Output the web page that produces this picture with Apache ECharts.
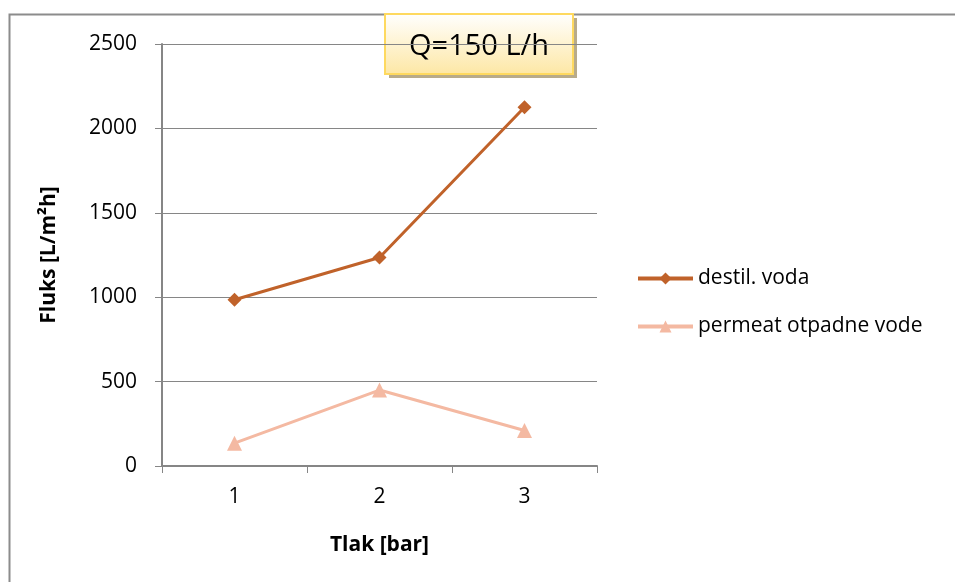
<!DOCTYPE html>
<html>
<head>
<meta charset="utf-8">
<script src="https://cdn.jsdelivr.net/npm/echarts@6/dist/echarts.min.js"></script>
<style>
  html, body { margin: 0; padding: 0; background: #fff; }
  #chart { width: 955px; height: 582px; }
</style>
</head>
<body>
<div id="chart"></div>
<script>
// podaci očitani sa grafika
const categories = ['1', '2', '3'];
const destilVoda = [985, 1235, 2125];
const permeatOtpadneVode = [135, 450, 210];
const yTicks = [0, 500, 1000, 1500, 2000, 2500];

const font = 'Open Sans, Noto Sans, sans-serif';
const myChart = echarts.init(document.getElementById('chart'));

const option = {
  animation: false,
  textStyle: { fontFamily: font },
  grid: { left: 162, right: 358, top: 44, bottom: 116 },
  legend: {
    orient: 'vertical',
    left: 631,
    top: 263,
    itemWidth: 55,
    itemHeight: 15,
    itemGap: 27,
    lineStyle: { width: 4 },
    textStyle: { fontSize: 21, color: '#000', fontFamily: font },
    data: ['destil. voda', 'permeat otpadne vode']
  },
  xAxis: {
    type: 'category',
    data: categories,
    name: 'Tlak [bar]',
    nameLocation: 'middle',
    nameGap: 69,
    nameTextStyle: { fontSize: 21, fontWeight: 'bold', color: '#000' },
    axisLine: { lineStyle: { color: '#868686', width: 2 } },
    axisTick: { show: true, length: 7, lineStyle: { color: '#868686', width: 1 } },
    axisLabel: { fontSize: 21, color: '#000', margin: 21 }
  },
  yAxis: {
    type: 'value',
    min: yTicks[0],
    max: yTicks[yTicks.length - 1],
    interval: 500,
    name: 'Fluks [L/m²h]',
    nameLocation: 'middle',
    nameGap: 102,
    nameTextStyle: { fontSize: 21, fontWeight: 'bold', color: '#000' },
    axisLine: { show: true, lineStyle: { color: '#868686', width: 2 } },
    axisTick: { show: true, length: 7, lineStyle: { color: '#868686', width: 1 } },
    axisLabel: { fontSize: 21, color: '#000', margin: 25, formatter: v => String(v) },
    splitLine: { lineStyle: { color: '#868686', width: 1 } }
  },
  graphic: [
    {
      type: 'rect',
      silent: true,
      shape: { x: 9.5, y: 14.5, width: 1200, height: 1200 },
      style: { fill: 'none', stroke: '#8c8c8c', lineWidth: 2 },
      z: -1
    },
    {
      type: 'group',
      left: 384,
      top: 13,
      children: [
        {
          type: 'rect',
          shape: { x: 4, y: 4, width: 188, height: 60 },
          style: { fill: '#b8ab8a' }
        },
        {
          type: 'rect',
          shape: { x: 0, y: 0, width: 188, height: 60 },
          style: {
            fill: new echarts.graphic.LinearGradient(0, 0, 0, 1, [
              { offset: 0, color: '#ffffff' },
              { offset: 1, color: '#fde7a4' }
            ]),
            stroke: '#fed95f',
            lineWidth: 2
          }
        },
        {
          type: 'text',
          x: 94,
          y: 33,
          style: {
            text: 'Q=150 L/h',
            fontSize: 29,
            fontFamily: font,
            fill: '#000',
            align: 'center',
            verticalAlign: 'middle'
          }
        }
      ]
    }
  ],
  series: [
    {
      name: 'destil. voda',
      type: 'line',
      data: destilVoda,
      symbol: 'diamond',
      symbolSize: 14,
      itemStyle: { color: '#c0622a' },
      lineStyle: { color: '#c0622a', width: 3 }
    },
    {
      name: 'permeat otpadne vode',
      type: 'line',
      data: permeatOtpadneVode,
      symbol: 'triangle',
      symbolSize: 15,
      itemStyle: { color: '#f4b9a2' },
      lineStyle: { color: '#f4b9a2', width: 3 }
    }
  ]
};

myChart.setOption(option);
window.addEventListener('resize', () => myChart.resize());
</script>
</body>
</html>
